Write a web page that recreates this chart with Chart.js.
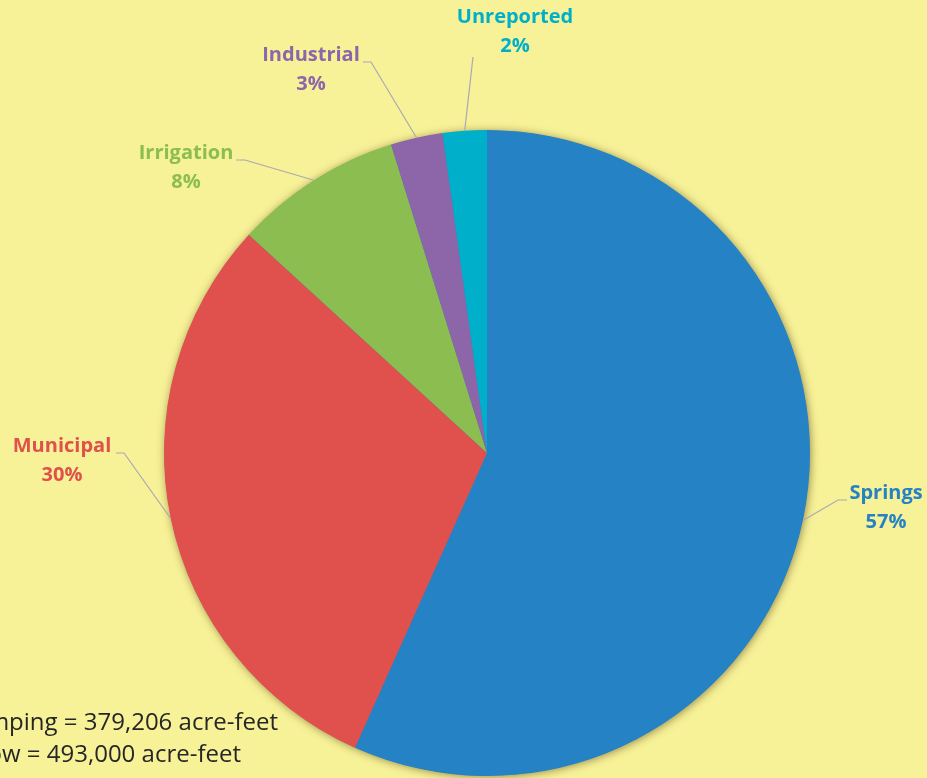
<!DOCTYPE html>
<html>
<head>
<meta charset="utf-8">
<script src="https://cdn.jsdelivr.net/npm/chart.js@4/dist/chart.umd.min.js"></script>
<style>
  html, body { margin: 0; padding: 0; background: #F7F197; }
  #wrap { width: 927px; height: 778px; position: relative; }
</style>
</head>
<body>
<div id="wrap"><canvas id="usePie"></canvas></div>
<script>
// data
const categories = ['Springs', 'Municipal', 'Irrigation', 'Industrial', 'Unreported'];
const shares = [56.7, 30.1, 8.4, 2.6, 2.2];
const sliceColors = ['#2582C4', '#E0504C', '#8BBD50', '#8C66A8', '#00AFCA'];
const noteLines = ['Total groundwater pumping = 379,206 acre-feet', 'Total spring flow = 493,000 acre-feet'];

// label placement (text centre of first line, elbow of leader line)
const labelSpots = [
  { x: 886, y: 493, elbow: [838, 500], lineStart: [847, 500] },
  { x: 62, y: 446, elbow: [124, 453], lineStart: [116, 453] },
  { x: 186, y: 153, elbow: [245, 160], lineStart: [236, 160] },
  { x: 311, y: 55, elbow: [371, 62], lineStart: [363, 62] },
  { x: 515, y: 17, elbow: [473, 57], lineStart: [473, 57] }
];

const pieShadow = {
  id: 'pieShadow',
  beforeDatasetsDraw(chart) {
    const arc = chart.getDatasetMeta(0).data[0];
    if (!arc) return;
    const ctx = chart.ctx;
    ctx.save();
    ctx.shadowColor = 'rgba(110, 95, 40, 0.75)';
    ctx.shadowBlur = 9;
    ctx.shadowOffsetX = 1;
    ctx.shadowOffsetY = 1;
    ctx.fillStyle = '#2582C4';
    ctx.beginPath();
    ctx.arc(arc.x, arc.y, arc.outerRadius - 0.5, 0, Math.PI * 2);
    ctx.fill();
    ctx.restore();
  }
};

const sliceLabels = {
  id: 'sliceLabels',
  afterDatasetsDraw(chart) {
    const ctx = chart.ctx;
    const arcs = chart.getDatasetMeta(0).data;
    ctx.save();
    arcs.forEach((arc, i) => {
      const spot = labelSpots[i];
      const mid = (arc.startAngle + arc.endAngle) / 2;
      const ax = arc.x + Math.cos(mid) * arc.outerRadius;
      const ay = arc.y + Math.sin(mid) * arc.outerRadius;
      ctx.strokeStyle = '#A9A9B4';
      ctx.lineWidth = 1.2;
      ctx.beginPath();
      ctx.moveTo(spot.lineStart[0], spot.lineStart[1]);
      ctx.lineTo(spot.elbow[0], spot.elbow[1]);
      ctx.lineTo(ax, ay);
      ctx.stroke();

      ctx.fillStyle = sliceColors[i];
      ctx.font = 'bold 20px "Open Sans", Lato, sans-serif';
      ctx.textAlign = 'center';
      ctx.textBaseline = 'middle';
      ctx.fillText(categories[i], spot.x, spot.y);
      ctx.fillText(Math.round(shares[i]) + '%', spot.x, spot.y + 29);
    });

    // footnote, partly cut at the left edge as in the source
    ctx.fillStyle = '#262626';
    ctx.font = '24px "Open Sans", Lato, sans-serif';
    ctx.textAlign = 'right';
    ctx.textBaseline = 'alphabetic';
    ctx.fillText(noteLines[0], 278, 730);
    ctx.fillText(noteLines[1], 241, 762);
    ctx.restore();
  }
};

new Chart(document.getElementById('usePie'), {
  type: 'pie',
  data: {
    labels: categories,
    datasets: [{
      data: shares,
      backgroundColor: sliceColors,
      borderWidth: 0
    }]
  },
  options: {
    responsive: true,
    maintainAspectRatio: false,
    animation: false,
    layout: { padding: { top: 130, bottom: 2, left: 164, right: 117 } },
    plugins: {
      legend: { display: false },
      tooltip: { enabled: false }
    }
  },
  plugins: [pieShadow, sliceLabels]
});
</script>
</body>
</html>
